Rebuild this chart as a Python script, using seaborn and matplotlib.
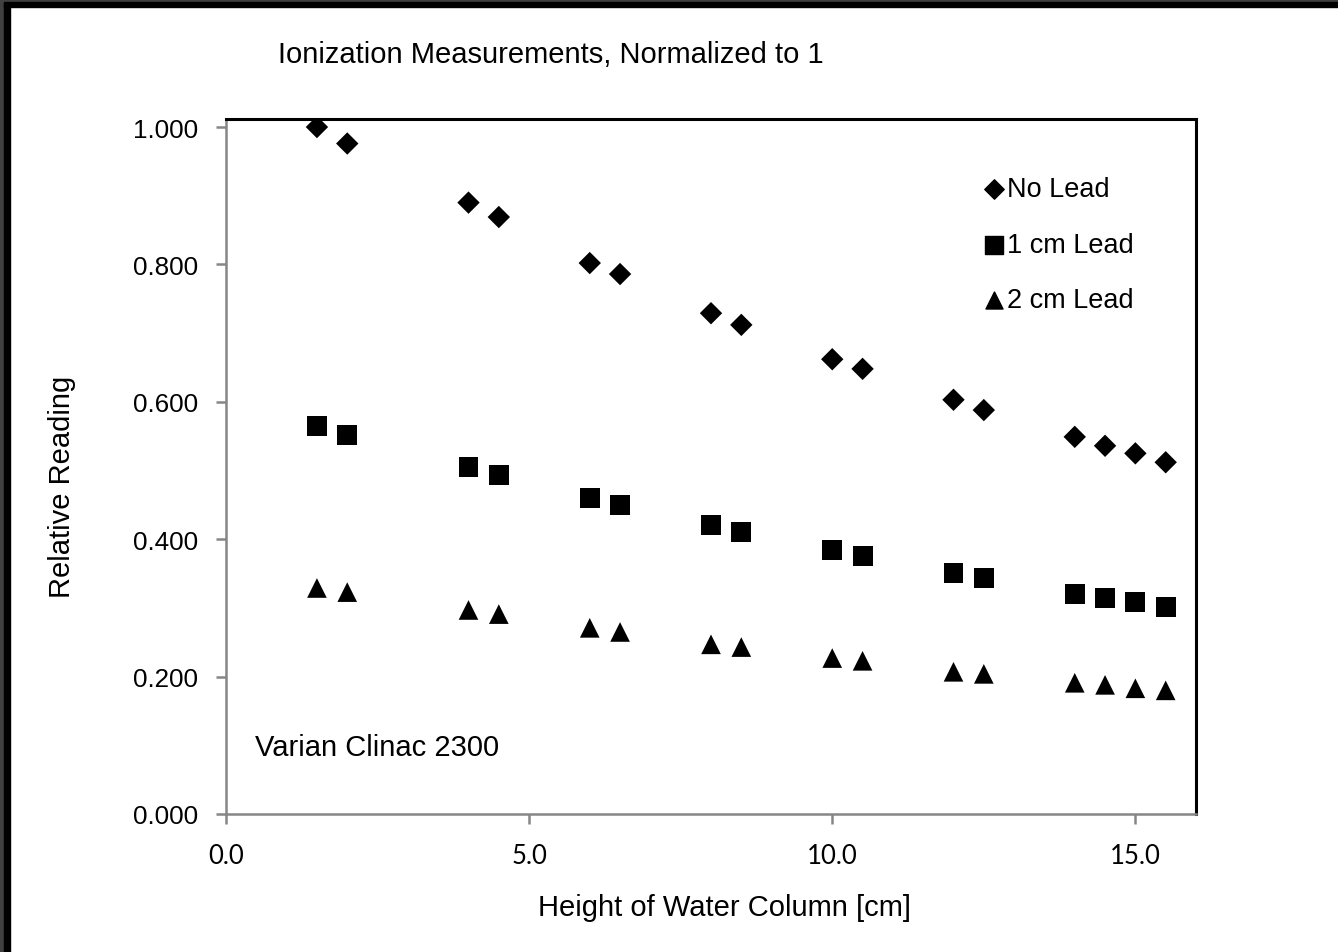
import matplotlib
matplotlib.use("Agg")
import matplotlib.pyplot as plt
import seaborn as sns
import pandas as pd
from matplotlib.patches import Rectangle

heights = [1.5, 2.0, 4.0, 4.5, 6.0, 6.5, 8.0, 8.5, 10.0, 10.5, 12.0, 12.5, 14.0, 14.5, 15.0, 15.5]
no_lead = [1.000, 0.976, 0.890, 0.869, 0.802, 0.786, 0.729, 0.712, 0.662, 0.648, 0.603, 0.588, 0.549, 0.536, 0.525, 0.512]
lead_1cm = [0.565, 0.552, 0.505, 0.493, 0.460, 0.450, 0.421, 0.410, 0.384, 0.376, 0.351, 0.344, 0.320, 0.314, 0.309, 0.301]
lead_2cm = [0.329, 0.323, 0.297, 0.291, 0.271, 0.265, 0.247, 0.243, 0.227, 0.223, 0.207, 0.204, 0.191, 0.188, 0.183, 0.180]
series_names = ["No Lead", "1 cm Lead", "2 cm Lead"]
x_ticks = [0.0, 5.0, 10.0, 15.0]
y_ticks = [0.0, 0.2, 0.4, 0.6, 0.8, 1.0]

sns.set_theme(style="white")
plt.rcParams['font.family'] = ['Liberation Sans', 'DejaVu Sans']
plt.rcParams['text.color'] = 'black'
plt.rcParams['axes.labelcolor'] = 'black'
plt.rcParams['xtick.color'] = 'black'
plt.rcParams['ytick.color'] = 'black'

df = pd.DataFrame({
    "Height": heights * 3,
    "Reading": no_lead + lead_1cm + lead_2cm,
    "Series": [series_names[0]] * len(heights) + [series_names[1]] * len(heights) + [series_names[2]] * len(heights),
})

fig = plt.figure(figsize=(13.38, 9.53), dpi=100)
fig.patch.set_facecolor("white")
ax = fig.add_axes([226/1338, 1-815/953, (1196-226)/1338, (815-120)/953])

markers = {"No Lead": "D", "1 cm Lead": "s", "2 cm Lead": "^"}
sizes = {"No Lead": 130, "1 cm Lead": 205, "2 cm Lead": 200}
for name in series_names:
    sub = df[df["Series"] == name]
    sns.scatterplot(data=sub, x="Height", y="Reading", ax=ax, marker=markers[name],
                    s=sizes[name], color="black", edgecolor="none", label=name, legend=False)

ax.set_xlim(0, 16)
ax.set_ylim(0, 1.0117)
ax.set_xticks(x_ticks)
ax.set_xticklabels([f"{v:.1f}" for v in x_ticks], fontsize=18.5, family=['Lato', 'DejaVu Sans'])
ax.set_yticks(y_ticks)
ax.set_yticklabels([f"{v:.3f}" for v in y_ticks], fontsize=18.7)

for side in ["left", "bottom"]:
    ax.spines[side].set_color("#868686")
    ax.spines[side].set_linewidth(1.8)
for side in ["top", "right"]:
    ax.spines[side].set_color("black")
    ax.spines[side].set_linewidth(2.2)
ax.tick_params(axis="both", which="major", direction="out", length=7, width=1.8, color="#868686",
               left=True, bottom=True, labelcolor="black")
ax.tick_params(axis="y", pad=13)
ax.tick_params(axis="x", pad=14)
ax.grid(False)
ax.set_xlabel("")
ax.set_ylabel("")

fig.text(724/1338, 1-908/953, "Height of Water Column [cm]", fontsize=21, ha="center", va="center")
fig.text(62/1338, 1-487/953, "Relative Reading", fontsize=21, ha="center", va="center", rotation=90)
fig.text(278/1338, 1-55/953, "Ionization Measurements, Normalized to 1", fontsize=21,
         ha="left", va="center")
fig.text(255/1338, 1-748/953, "Varian Clinac 2300", fontsize=21, ha="left", va="center")

handles, labels = [], []
for name in series_names:
    h = ax.scatter([], [], marker=markers[name], s=sizes[name] * 0.75, color="black")
    handles.append(h)
    labels.append(name)
leg = ax.legend(handles, labels, loc="upper left", bbox_to_anchor=((970-226)/970, 1-(166-120)/695),
                frameon=False, fontsize=19.5, handletextpad=-0.05, labelspacing=1.1,
                handlelength=1.0, borderaxespad=0, scatterpoints=1)

# outer frame (screenshot border)
fig.patches.append(Rectangle((0, 0), 4/1338, 1, transform=fig.transFigure, color="#404040", zorder=10))
fig.patches.append(Rectangle((4/1338, 0), 6/1338, 1, transform=fig.transFigure, color="black", zorder=10))
fig.patches.append(Rectangle((0, 1-3/953), 1, 3/953, transform=fig.transFigure, color="#404040", zorder=10))
fig.patches.append(Rectangle((4/1338, 1-8/953), 1, 5/953, transform=fig.transFigure, color="black", zorder=10))

fig.savefig("out.png", dpi=100, facecolor="white")
